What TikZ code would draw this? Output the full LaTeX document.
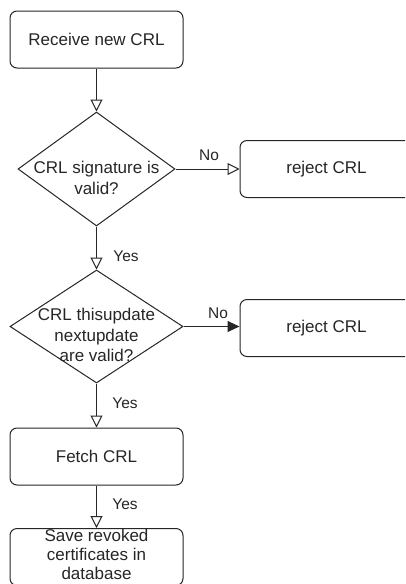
\documentclass[tikz,border=0pt]{standalone}
\usepackage{fontspec}
\setmainfont{Liberation Sans}
\usetikzlibrary{shapes.geometric,arrows.meta}
\begin{document}
\begin{tikzpicture}[x=1pt,y=-1pt,
  line width=1pt,
  every node/.style={text=black!85},
  proc/.style={draw=black!85, rounded corners=7pt, minimum width=173pt, minimum height=57pt, inner sep=0pt,
     font=\fontsize{17}{20}\selectfont, align=center},
  dec/.style={draw=black!85, diamond, inner sep=0pt},
  dtext/.style={font=\fontsize{17}{20.5}\selectfont, align=center, inner sep=0pt},
  lbl/.style={font=\fontsize{15.5}{18}\selectfont, inner sep=0pt},
  flow/.style={draw=black!85, -{Triangle[open, length=12pt, width=12pt]}},
  flowfill/.style={draw=black!85, -{Triangle[length=12pt, width=11pt]}}
]
\useasboundingbox (0,0) rectangle (405,584);
\clip (0,0) rectangle (405,584);
\fill[white] (0,0) rectangle (405,584);

\node[proc] (recv) at (96.5,39.5) {Receive new CRL};
\node[dec, minimum width=157pt, minimum height=114pt] (d1) at (96.5,169) {};
\node[dtext] (d1t) at (96.5,178) {CRL signature is\\valid?};
\node[proc] (rej1) at (326.5,169) {reject CRL};
\node[dec, minimum width=173pt, minimum height=113pt] (d2) at (96.5,326.5) {};
\node[dtext] (d2t) at (96.5,335) {CRL thisupdate\\nextupdate\\are valid?};
\node[proc] (rej2) at (326.5,328) {reject CRL};
\node[proc] (fetch) at (96.5,456.5) {Fetch CRL};
\node[proc] (save) at (96.5,557) {};
\node[dtext, font=\fontsize{17}{19}\selectfont] (savet) at (96.5,554) {Save revoked\\certificates in\\database};

\draw[flow] (recv.south) -- (d1.north);
\draw[flow] (d1.east) -- (rej1.west);
\draw[flow] (d1.south) -- (d2.north);
\draw[flowfill] (d2.east) -- (d2.east -| rej2.west);
\draw[flow] (d2.south) -- (fetch.north);
\draw[flow] (fetch.south) -- (save.north);

\node[lbl] (no1) at (209,155) {No};
\node[lbl] (yes1) at (126,256) {Yes};
\node[lbl] (no2) at (218,313) {No};
\node[lbl] (yes2) at (125,403) {Yes};
\node[lbl] (yes3) at (125,504) {Yes};
\end{tikzpicture}
\end{document}
